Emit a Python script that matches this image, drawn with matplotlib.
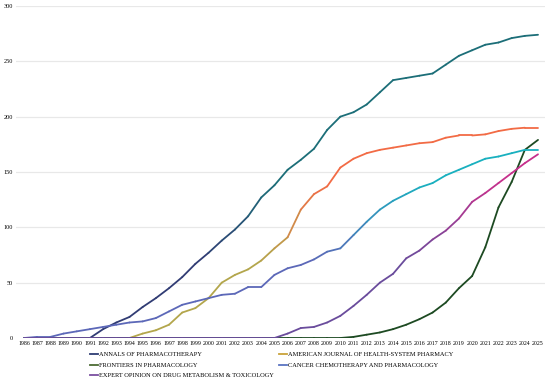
import numpy as np
import matplotlib
matplotlib.use("Agg")
import matplotlib.pyplot as plt
from matplotlib.collections import LineCollection
from matplotlib.colors import to_rgb
from matplotlib.lines import Line2D

years = list(range(1986, 2026))

annals = [0, 0, 0, 0, 0, 0, 8, 14, 19, 28, 36, 45, 55, 67, 77,
          88, 98, 110, 127, 138, 152, 161, 171, 188, 200, 204, 211, 222, 233, 235,
          237, 239, 247, 255, 260, 265, 267, 271, 273, 274]
ajhp = [0, 0, 0, 0, 0, 0, 0, 0, 0, 4, 7, 12, 23, 27, 36,
        50, 57, 62, 70, 81, 91, 116, 130, 137, 154, 162, 167, 170, 172, 174,
        176, 177, 181, 183, 183, 184, 187, 189, 190, 190]
cancer = [0, 1, 1, 4, 6, 8, 10, 12, 14, 15, 18, 24, 30, 33, 36,
          39, 40, 46, 46, 57, 63, 66, 71, 78, 81, 93, 105, 116, 124, 130,
          136, 140, 147, 152, 157, 162, 164, 167, 170, 170]
frontiers = [0, 0, 0, 0, 0, 0, 0, 0, 0, 0, 0, 0, 0, 0, 0,
             0, 0, 0, 0, 0, 0, 0, 0, 0, 0, 1, 3, 5, 8, 12,
             17, 23, 32, 45, 56, 82, 118, 141, 170, 179]
expert = [0, 0, 0, 0, 0, 0, 0, 0, 0, 0, 0, 0, 0, 0, 0,
          0, 0, 0, 0, 0, 4, 9, 10, 14, 20, 29, 39, 50, 58, 72,
          79, 89, 97, 108, 123, 131, 140, 149, 158, 166]

series = [
    ("ANNALS OF PHARMACOTHERAPY", annals, "#313c74", "#1c6e78", "#2e3d73"),
    ("AMERICAN JOURNAL OF HEALTH-SYSTEM PHARMACY", ajhp, "#b3a64c", "#f26b45", "#c9a23a"),
    ("FRONTIERS IN PHARMACOLOGY", frontiers, "#1d4a22", "#1d4a22", "#4c6b34"),
    ("CANCER CHEMOTHERAPY AND PHARMACOLOGY", cancer, "#5c68b8", "#19b0bf", "#5b74c2"),
    ("EXPERT OPINION ON DRUG METABOLISM & TOXICOLOGY", expert, "#6a4c9c", "#c6308c", "#7b4fa0"),
]

plt.rcParams['font.family'] = ['Liberation Serif', 'DejaVu Serif']

fig = plt.figure(figsize=(5.5, 3.79), dpi=100)
ax = fig.add_axes([16/550, 1 - 338/379, (545-16)/550, (338-6)/379])
ax.set_xlim(1985.39, 2025.53)
ax.set_ylim(0, 300)

for y in [50, 100, 150, 200, 250, 300]:
    ax.axhline(y, color="#e8e8e8", lw=0.9, zorder=0)

for name, vals, c0, c1, lc in series:
    x = np.array(years, dtype=float)
    y = np.array(vals, dtype=float)
    pts = np.column_stack([x, y]).reshape(-1, 1, 2)
    segs = np.concatenate([pts[:-1], pts[1:]], axis=1)
    ymid = (y[:-1] + y[1:]) / 2
    t = np.clip((ymid - 70) / (140 - 70), 0, 1)
    a, b = np.array(to_rgb(c0)), np.array(to_rgb(c1))
    cols = [tuple(a + (b - a) * ti) for ti in t]
    lcoll = LineCollection(segs, colors=cols, linewidths=1.3, capstyle='round', joinstyle='round')
    ax.add_collection(lcoll)

ax.set_xticks(years)
ax.set_xticklabels([str(v) for v in years], fontsize=4.2)
ax.set_yticks([0, 50, 100, 150, 200, 250, 300])
ax.set_yticklabels(["0", "50", "100", "150", "200", "250", "300"], fontsize=4.5)
ax.tick_params(length=0, pad=2)
for s in ax.spines.values():
    s.set_visible(False)

handles = [Line2D([0], [0], color=lc, lw=1.3) for _, _, _, _, lc in series]
labels = [s[0] for s in series]
order = [0, 2, 4, 1, 3]
leg = fig.legend([handles[i] for i in order], [labels[i] for i in order],
                 loc="upper left", bbox_to_anchor=(90/550, 1 - 352/379), ncol=2,
                 frameon=False, fontsize=4.6, handlelength=1.3, handletextpad=0.15,
                 columnspacing=0.8, labelspacing=0.75, borderaxespad=0, borderpad=0)

fig.savefig("out.png", dpi=100)
